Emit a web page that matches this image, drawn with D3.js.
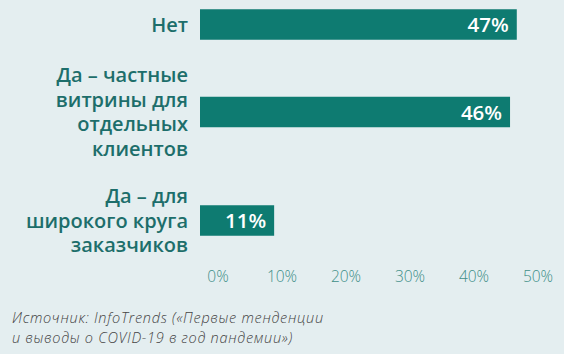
<!DOCTYPE html>
<html><head><meta charset="utf-8">
<script src="https://cdn.jsdelivr.net/npm/d3@7"></script>
<style>
html,body{margin:0;padding:0;background:#fff;}
svg{display:block;}
</style></head>
<body>
<svg id="c" width="564" height="356"></svg>
<script>
const categories = [
  ["Нет"],
  ["Да – частные", "витрины для", "отдельных", "клиентов"],
  ["Да – для", "широкого круга", "заказчиков"]
];
const values = [47, 46, 11];
const valueLabels = ["47%", "46%", "11%"];
const tickValues = [0, 10, 20, 30, 40, 50];
const tickLabels = ["0%", "10%", "20%", "30%", "40%", "50%"];
const sourceLines = ["Источник: InfoTrends («Первые тенденции", "и выводы о COVID-19 в год пандемии»)"];

const W = 564, H = 356;
const svg = d3.select("#c");
svg.append("rect").attr("x",0).attr("y",0).attr("width",W).attr("height",354).attr("fill","#e4eef0");

const barColor = "#0e7b71", labelColor = "#1d6e6b", tickColor = "#3f8e88";
const font = "'Open Sans', sans-serif";

const x = d3.scaleLinear().domain([0, 50]).range([200, 537]);
const xAxis = d3.scaleLinear().domain([0, 50]).range([218, 538]);
const centerOf = i => [24.5, 112, 220.5][i];
const barH = 30.5;

const g = svg.append("g");
values.forEach((v, i) => {
  const cy = centerOf(i);
  g.append("rect").attr("x", x(0)).attr("y", cy - barH/2).attr("width", x(v) - x(0)).attr("height", barH).attr("fill", barColor);
  g.append("text").attr("x", x(v) - 8).attr("y", cy + 7.5).attr("text-anchor","end")
    .attr("font-family", font).attr("font-weight", 600).attr("font-size", 20.5).attr("fill","#fff").text(valueLabels[i]);
  const lines = categories[i];
  const lh = 24.7;
  const t = g.append("text").attr("text-anchor","end").attr("font-family", font).attr("font-weight",600)
    .attr("font-size", 20).attr("fill", labelColor);
  lines.forEach((ln, k) => {
    t.append("tspan").attr("x", 188).attr("y", cy + (k - (lines.length-1)/2)*lh + 7).text(ln);
  });
});

const ax = svg.append("g");
tickValues.forEach((tv, i) => {
  ax.append("text").attr("x", xAxis(tv)).attr("y", 282).attr("text-anchor","middle")
    .attr("font-family", font).attr("font-weight", 300).attr("font-size", 15.5).attr("fill", tickColor).text(tickLabels[i]);
});

sourceLines.forEach((s, k) => {
  svg.append("text").attr("font-family", font).attr("font-style","italic").attr("font-weight",300)
    .attr("font-size", 14.5).attr("letter-spacing", 0.7).attr("fill","#444")
    .attr("x", 12).attr("y", 323 + k*20).text(s);
});
</script>
</body></html>
